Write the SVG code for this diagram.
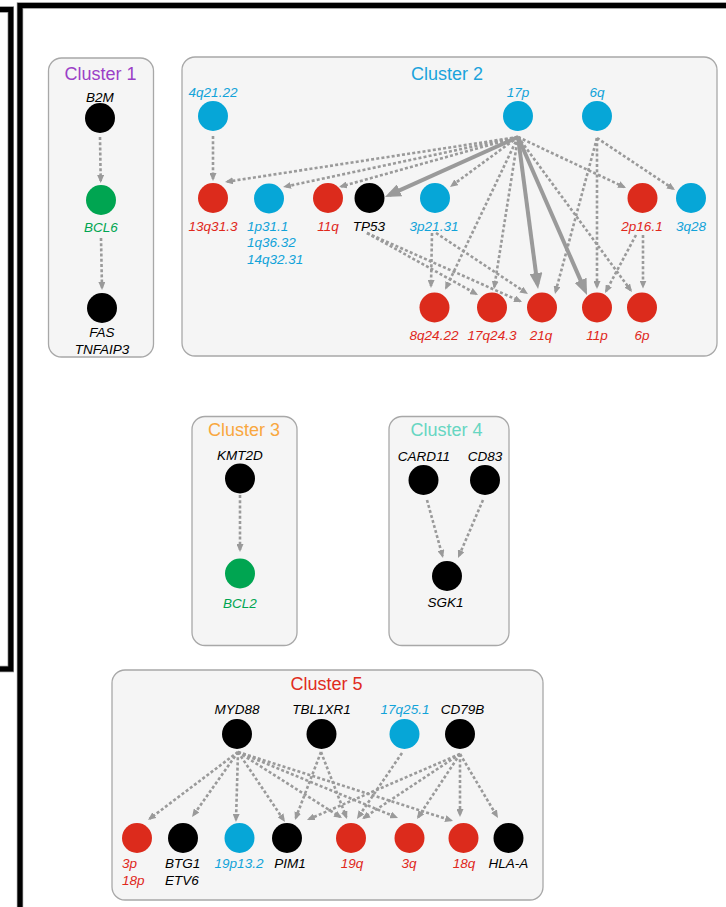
<svg xmlns="http://www.w3.org/2000/svg" width="726" height="907" viewBox="0 0 726 907">
<style>
.box{fill:#f5f5f5;stroke:#a8a8a8;stroke-width:1.3}
.t{font-family:"Liberation Sans",Arial,sans-serif;font-size:18px;text-anchor:middle}
.l{font-family:"Liberation Sans",Arial,sans-serif;font-size:13.5px;font-style:italic;text-anchor:middle}
.ls{font-family:"Liberation Sans",Arial,sans-serif;font-size:13.5px;font-style:italic;text-anchor:start}
.k{fill:#000}.r{fill:#dc2b1c}.b{fill:#06a6d7}.g{fill:#00a551}
.d{fill:none;stroke:#9a9a9a;stroke-width:2.6;stroke-dasharray:3 2.2;marker-end:url(#ad)}
.s{fill:none;stroke:#9a9a9a;stroke-width:4;marker-end:url(#as)}
.fr{fill:none;stroke:#000;stroke-width:5}
.fg{fill:none;stroke:#8a8a8a;stroke-width:6.4}
</style>
<defs>
<marker id="ad" markerUnits="userSpaceOnUse" viewBox="0 0 8 7" markerWidth="8" markerHeight="7" refX="6" refY="3.5" orient="auto"><path d="M0,0 L8,3.5 L0,7 z" fill="#9a9a9a"/></marker>
<marker id="as" markerUnits="userSpaceOnUse" viewBox="0 0 16 13" markerWidth="16" markerHeight="13" refX="11" refY="6.5" orient="auto"><path d="M0,0 L16,6.5 L0,13 z" fill="#9a9a9a"/></marker>
</defs>
<rect width="726" height="907" fill="#fff"/>
<g id="frame">
<path class="fg" d="M0 9.5 H10.8 V669 H0"/>
<path class="fg" d="M20 907 V5.5 H726"/>
<path class="fr" d="M0 9.5 H10.8 V669 H0"/>
<path class="fr" d="M20 907 V5.5 H726"/>
</g>
<g id="clusters">
<g id="cluster1"><rect class="box" x="48.5" y="58" width="105" height="299" rx="13"/><text class="t" x="100.5" y="80" fill="#9b3fc7">Cluster 1</text></g>
<g id="cluster2"><rect class="box" x="182" y="57" width="535" height="299" rx="13"/><text class="t" x="447" y="80" fill="#1aa3dc">Cluster 2</text></g>
<g id="cluster3"><rect class="box" x="192" y="416.5" width="105" height="229" rx="13"/><text class="t" x="244" y="436" fill="#f9a73e">Cluster 3</text></g>
<g id="cluster4"><rect class="box" x="389" y="416.5" width="120" height="229" rx="13"/><text class="t" x="446.5" y="436" fill="#67d6c2">Cluster 4</text></g>
<g id="cluster5"><rect class="box" x="112" y="670" width="431" height="230" rx="13"/><text class="t" x="326.5" y="690" fill="#e02b20">Cluster 5</text></g>
</g>
<g id="connectors">
<line class="d" x1="100" y1="137" x2="100.7" y2="181"/>
<line class="d" x1="101" y1="238" x2="102" y2="288"/>
<line class="d" x1="213" y1="136" x2="213" y2="179"/>
<line class="d" x1="518" y1="137" x2="227" y2="181.7"/>
<line class="d" x1="518" y1="137" x2="285" y2="186.7"/>
<line class="d" x1="518" y1="137" x2="341" y2="186.5"/>
<line class="d" x1="518" y1="137" x2="451.6" y2="185.8"/>
<line class="d" x1="518" y1="137" x2="446" y2="288"/>
<line class="d" x1="518" y1="137" x2="494.3" y2="287"/>
<line class="d" x1="518" y1="137" x2="630.8" y2="290.4"/>
<line class="d" x1="518" y1="137" x2="624.2" y2="187.1"/>
<line class="s" x1="518" y1="137" x2="389.5" y2="194.9"/>
<line class="s" x1="518" y1="137" x2="537.4" y2="284"/>
<line class="s" x1="518" y1="137" x2="585" y2="290.4"/>
<line class="d" x1="432" y1="233" x2="431" y2="286"/>
<line class="d" x1="436" y1="233" x2="526.3" y2="292.9"/>
<line class="d" x1="367" y1="233" x2="476.3" y2="294"/>
<line class="d" x1="367" y1="233" x2="520.2" y2="301.2"/>
<line class="d" x1="597" y1="138" x2="673.3" y2="188.9"/>
<line class="d" x1="597" y1="138" x2="555.5" y2="292"/>
<line class="d" x1="597" y1="138" x2="597" y2="287"/>
<line class="d" x1="636" y1="235" x2="606" y2="291.2"/>
<line class="d" x1="643" y1="235" x2="643" y2="286.5"/>
<line class="d" x1="240" y1="495" x2="240" y2="550"/>
<line class="d" x1="427" y1="500" x2="442.5" y2="556"/>
<line class="d" x1="483" y1="500" x2="458.8" y2="556.2"/>
<line class="d" x1="238" y1="752" x2="149.6" y2="818.8"/>
<line class="d" x1="238" y1="752" x2="193.2" y2="815.4"/>
<line class="d" x1="238" y1="752" x2="236" y2="820"/>
<line class="d" x1="238" y1="752" x2="283.9" y2="820.3"/>
<line class="d" x1="238" y1="752" x2="340.3" y2="817"/>
<line class="d" x1="238" y1="752" x2="396.2" y2="817.2"/>
<line class="d" x1="238" y1="752" x2="451.1" y2="820.4"/>
<line class="d" x1="321" y1="752" x2="295.7" y2="818.1"/>
<line class="d" x1="321" y1="752" x2="346.3" y2="817.1"/>
<line class="d" x1="402" y1="753" x2="358.1" y2="817.3"/>
<line class="d" x1="460" y1="754" x2="308.8" y2="819.2"/>
<line class="d" x1="460" y1="754" x2="363.7" y2="817.9"/>
<line class="d" x1="460" y1="754" x2="418.1" y2="817.3"/>
<line class="d" x1="460" y1="754" x2="460" y2="815"/>
<line class="d" x1="460" y1="754" x2="497" y2="816.3"/>
</g>
<g id="n-B2M"><circle class="k" cx="100" cy="118" r="15"/><text class="l" x="100" y="101.5" fill="#000">B2M</text></g>
<g id="n-BCL6"><circle class="g" cx="101" cy="200" r="15"/><text class="l" x="101" y="231.5" fill="#00a551">BCL6</text></g>
<g id="n-FAS"><circle class="k" cx="102" cy="308" r="15"/><text class="l" x="102" y="337.3" fill="#000">FAS</text><text class="l" x="102" y="354.3" fill="#000">TNFAIP3</text></g>
<g id="n-4q21.22"><circle class="b" cx="213" cy="116" r="15"/><text class="l" x="213" y="96.7" fill="#12a3d9">4q21.22</text></g>
<g id="n-17p"><circle class="b" cx="518" cy="116" r="15"/><text class="l" x="518" y="96.7" fill="#12a3d9">17p</text></g>
<g id="n-6q"><circle class="b" cx="597" cy="116" r="15"/><text class="l" x="597" y="96.7" fill="#12a3d9">6q</text></g>
<g id="n-13q31.3"><circle class="r" cx="213" cy="198" r="15"/><text class="l" x="213" y="230.5" fill="#e0281c">13q31.3</text></g>
<g id="n-1p31.1"><circle class="b" cx="269" cy="198.5" r="15"/><text class="ls" x="247" y="230.5" fill="#12a3d9">1p31.1</text><text class="ls" x="247" y="247" fill="#12a3d9">1q36.32</text><text class="ls" x="247" y="263.5" fill="#12a3d9">14q32.31</text></g>
<g id="n-11q"><circle class="r" cx="328" cy="198" r="15"/><text class="l" x="328" y="230.5" fill="#e0281c">11q</text></g>
<g id="n-TP53"><circle class="k" cx="369.5" cy="198" r="15"/><text class="l" x="369" y="230.5" fill="#000">TP53</text></g>
<g id="n-3p21.31"><circle class="b" cx="435" cy="198" r="15"/><text class="l" x="434" y="230.5" fill="#12a3d9">3p21.31</text></g>
<g id="n-2p16.1"><circle class="r" cx="642.5" cy="198" r="15"/><text class="l" x="642" y="230.5" fill="#e0281c">2p16.1</text></g>
<g id="n-3q28"><circle class="b" cx="691" cy="198" r="15"/><text class="l" x="691" y="230.5" fill="#12a3d9">3q28</text></g>
<g id="n-8q24.22"><circle class="r" cx="434.5" cy="307.5" r="15"/><text class="l" x="434" y="339.5" fill="#e0281c">8q24.22</text></g>
<g id="n-17q24.3"><circle class="r" cx="492" cy="307.5" r="15"/><text class="l" x="492" y="339.5" fill="#e0281c">17q24.3</text></g>
<g id="n-21q"><circle class="r" cx="542" cy="307.5" r="15"/><text class="l" x="541" y="339.5" fill="#e0281c">21q</text></g>
<g id="n-11p"><circle class="r" cx="597" cy="307.5" r="15"/><text class="l" x="597" y="339.5" fill="#e0281c">11p</text></g>
<g id="n-6p"><circle class="r" cx="642" cy="307.5" r="15"/><text class="l" x="642" y="339.5" fill="#e0281c">6p</text></g>
<g id="n-KMT2D"><circle class="k" cx="240" cy="478.5" r="15"/><text class="l" x="240" y="460" fill="#000">KMT2D</text></g>
<g id="n-BCL2"><circle class="g" cx="240" cy="573.5" r="15"/><text class="l" x="240" y="607.5" fill="#00a551">BCL2</text></g>
<g id="n-CARD11"><circle class="k" cx="423.5" cy="480" r="15"/><text class="l" x="424" y="460.5" fill="#000">CARD11</text></g>
<g id="n-CD83"><circle class="k" cx="485" cy="480" r="15"/><text class="l" x="485" y="460.5" fill="#000">CD83</text></g>
<g id="n-SGK1"><circle class="k" cx="447" cy="576" r="15"/><text class="l" x="445.5" y="606.5" fill="#000">SGK1</text></g>
<g id="n-MYD88"><circle class="k" cx="237" cy="734" r="15"/><text class="l" x="237" y="714.3" fill="#000">MYD88</text></g>
<g id="n-TBL1XR1"><circle class="k" cx="321.5" cy="734" r="15"/><text class="l" x="321.5" y="714.3" fill="#000">TBL1XR1</text></g>
<g id="n-17q25.1"><circle class="b" cx="404.5" cy="734" r="15"/><text class="l" x="405" y="713.5" fill="#12a3d9">17q25.1</text></g>
<g id="n-CD79B"><circle class="k" cx="460" cy="734" r="15"/><text class="l" x="462.5" y="714.3" fill="#000">CD79B</text></g>
<g id="n-3p"><circle class="r" cx="137" cy="838" r="15"/><text class="ls" x="122" y="868.3" fill="#e0281c">3p</text><text class="ls" x="122" y="885" fill="#e0281c">18p</text></g>
<g id="n-BTG1"><circle class="k" cx="183" cy="838" r="15"/><text class="ls" x="165" y="868.3" fill="#000">BTG1</text><text class="ls" x="165" y="885" fill="#000">ETV6</text></g>
<g id="n-19p13.2"><circle class="b" cx="239.5" cy="838" r="15"/><text class="l" x="239" y="868.3" fill="#12a3d9">19p13.2</text></g>
<g id="n-PIM1"><circle class="k" cx="287" cy="838" r="15"/><text class="l" x="290" y="868.3" fill="#000">PIM1</text></g>
<g id="n-19q"><circle class="r" cx="351" cy="838" r="15"/><text class="l" x="352" y="868.3" fill="#e0281c">19q</text></g>
<g id="n-3q"><circle class="r" cx="409.5" cy="838" r="15"/><text class="l" x="409" y="868.3" fill="#e0281c">3q</text></g>
<g id="n-18q"><circle class="r" cx="463.5" cy="838" r="15"/><text class="l" x="464" y="868.3" fill="#e0281c">18q</text></g>
<g id="n-HLA-A"><circle class="k" cx="508.5" cy="838" r="15"/><text class="l" x="508.5" y="868.3" fill="#000">HLA-A</text></g>
</svg>
